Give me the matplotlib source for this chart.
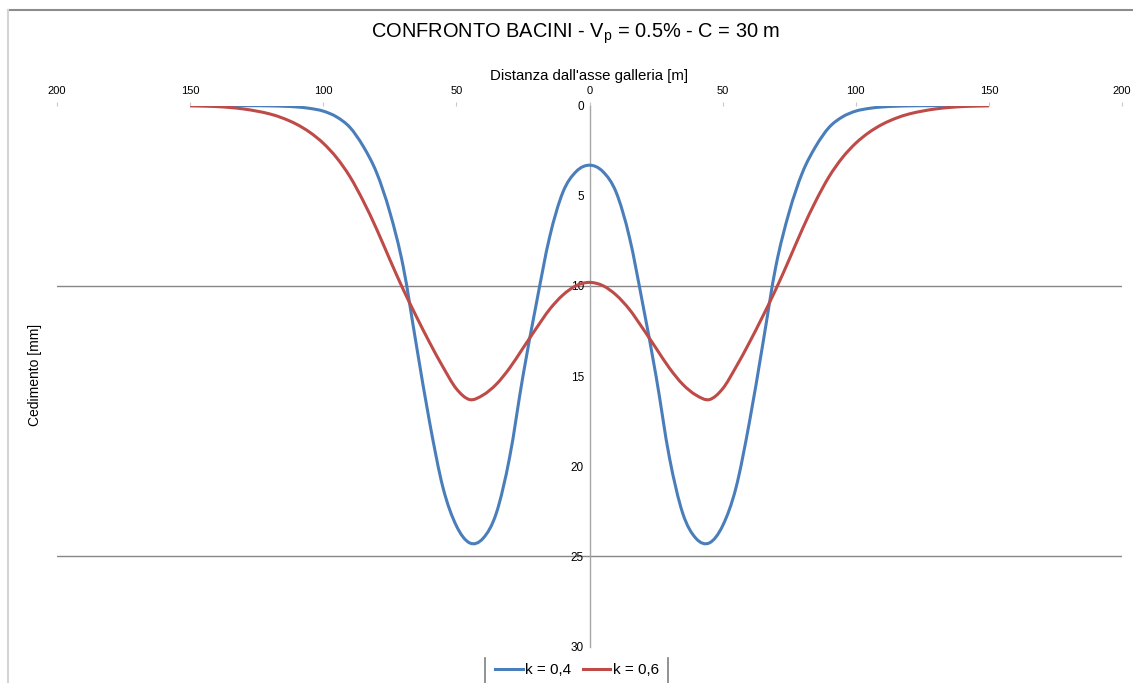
import matplotlib
matplotlib.use("Agg")
import matplotlib.pyplot as plt
from matplotlib.ticker import FuncFormatter
from matplotlib.lines import Line2D
from matplotlib.path import Path
from matplotlib.patches import PathPatch

plt.rcParams["font.family"] = ["Liberation Sans", "DejaVu Sans"]

# distanza dall'asse galleria [m]
x_m = [-150, -145, -140, -135, -130, -125, -120, -115, -110, -105,
       -100, -95, -90, -85, -80, -75, -70, -65, -60, -55,
       -50, -45, -40, -35, -30, -25, -20, -15, -10, -5,
       0, 5, 10, 15, 20, 25, 30, 35, 40, 45,
       50, 55, 60, 65, 70, 75, 80, 85, 90, 95,
       100, 105, 110, 115, 120, 125, 130, 135, 140, 145, 150]

# cedimento [mm], k = 0,4
sett_k04 = [0.0, 0.0, 0.0, 0.0, 0.0, 0.0, 0.01, 0.03, 0.07, 0.15,
            0.3, 0.62, 1.2, 2.25, 3.7, 5.9, 8.9, 13.3, 17.6, 21.2,
            23.3, 24.25, 24.0, 22.6, 19.5, 15.0, 11.0, 7.3, 4.8, 3.65,
            3.3, 3.65, 4.8, 7.3, 11.0, 15.0, 19.5, 22.6, 24.0, 24.25,
            23.3, 21.2, 17.6, 13.3, 8.9, 5.9, 3.7, 2.25, 1.2, 0.62,
            0.3, 0.15, 0.07, 0.03, 0.01, 0.0, 0.0, 0.0, 0.0, 0.0, 0.0]

# cedimento [mm], k = 0,6
sett_k06 = [0.0, 0.02, 0.05, 0.1, 0.18, 0.3, 0.46, 0.7, 1.03, 1.48,
            2.08, 2.88, 3.93, 5.28, 6.83, 8.53, 10.18, 11.7, 13.15, 14.5,
            15.7, 16.3, 16.05, 15.45, 14.55, 13.45, 12.35, 11.3, 10.5, 9.98,
            9.8, 9.98, 10.5, 11.3, 12.35, 13.45, 14.55, 15.45, 16.05, 16.3,
            15.7, 14.5, 13.15, 11.7, 10.18, 8.53, 6.83, 5.28, 3.93, 2.88,
            2.08, 1.48, 1.03, 0.7, 0.46, 0.3, 0.18, 0.1, 0.05, 0.02, 0.0]

x_ticks = [-200, -150, -100, -50, 0, 50, 100, 150, 200]
y_ticks = [0, 5, 10, 15, 20, 25, 30]
grid_levels = [10, 25]

BLUE = "#4A7EBB"
RED = "#BE4B48"


def smooth_path(xs, ys):
    # excel-style smoothed line: bezier segments through the data points
    n = len(xs)
    verts = [(xs[0], ys[0])]
    codes = [Path.MOVETO]
    for i in range(n - 1):
        i0 = max(i - 1, 0)
        i3 = min(i + 2, n - 1)
        c1 = (xs[i] + (xs[i + 1] - xs[i0]) / 6, ys[i] + (ys[i + 1] - ys[i0]) / 6)
        c2 = (xs[i + 1] - (xs[i3] - xs[i]) / 6, ys[i + 1] - (ys[i3] - ys[i]) / 6)
        verts += [c1, c2, (xs[i + 1], ys[i + 1])]
        codes += [Path.CURVE4] * 3
    return Path(verts, codes)


W, H = 1133, 683
fig = plt.figure(figsize=(W / 100, H / 100), dpi=100)
ax = fig.add_axes([57 / W, 1 - 646.6 / H, (1122 - 57) / W, (646.6 - 105.7) / H])

for ys, col in [(sett_k04, BLUE), (sett_k06, RED)]:
    ax.add_patch(PathPatch(smooth_path(x_m, ys), facecolor="none",
                           edgecolor=col, lw=2.2, zorder=3,
                           capstyle="butt", joinstyle="round"))

for g in grid_levels:
    ax.axhline(g, color="#868686", lw=1.0, zorder=1)

ax.set_xlim(-200, 200)
ax.set_ylim(30, 0)

# axes styling (excel-like)
for s in ["top", "bottom", "right"]:
    ax.spines[s].set_visible(False)
ax.spines["left"].set_position(("data", 0))
ax.spines["left"].set_color("#A6A6A6")
ax.spines["left"].set_linewidth(1.0)

ax.xaxis.tick_top()
ax.set_xticks(x_ticks)
ax.xaxis.set_major_formatter(FuncFormatter(lambda v, p: f"{abs(int(v))}"))
ax.tick_params(axis="x", which="major", length=3, color="#C8C8C8",
               labelsize=8, pad=4)
ax.set_yticks(y_ticks)
ax.tick_params(axis="y", length=0, labelsize=8.5, pad=4)

ax.set_xlabel("Distanza dall'asse galleria [m]", fontsize=10.8, labelpad=4)
ax.xaxis.set_label_position("top")

fig.text(35 / W, 1 - 375 / H, "Cedimento [mm]", rotation=90,
         ha="center", va="center", fontsize=10)

fig.text(576 / W, 1 - 34 / H, "CONFRONTO BACINI - V$_\\mathregular{p}$ = 0.5% - C = 30 m",
         ha="center", va="center", fontsize=14.4)

# chart area border (partially visible in the original)
fig.add_artist(Line2D([8 / W, 1.0], [1 - 10 / H, 1 - 10 / H],
                      transform=fig.transFigure, color="#8C8C8C", lw=1.5))
fig.add_artist(Line2D([8 / W, 8 / W], [0.0, 1 - 10 / H],
                      transform=fig.transFigure, color="#D4D4D4", lw=1.5))

handles = [Line2D([], [], color=BLUE, lw=2.2), Line2D([], [], color=RED, lw=2.2)]
fig.legend(handles, ["k = 0,4", "k = 0,6"], loc="center",
           bbox_to_anchor=(577 / W, 1 - 670 / H), ncol=2, frameon=False,
           fontsize=11, handlelength=1.8, handletextpad=0.15,
           columnspacing=0.75)
for lx in [485, 668]:
    fig.add_artist(Line2D([lx / W, lx / W], [0.0, 1 - 658 / H],
                          transform=fig.transFigure, color="#7F7F7F", lw=1.2))

fig.savefig("out.png", dpi=100)
